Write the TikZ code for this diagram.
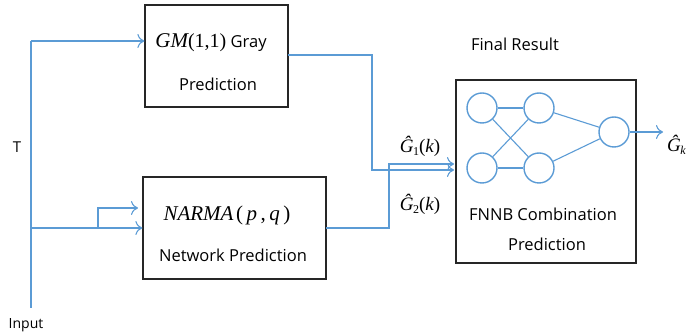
\documentclass[tikz,border=0pt]{standalone}
\usepackage{fontspec}
\setmainfont{Open Sans}
\newfontfamily\serifit{Liberation Serif}
\usetikzlibrary{arrows.meta}
\definecolor{lblue}{RGB}{91,155,213}
\newcommand{\ghat}[1]{{\serifit\fontsize{19}{21}\selectfont\itshape Ĝ\kern-0.5pt\raisebox{-3pt}{\upshape\fontsize{12}{14}\selectfont #1}}}
\begin{document}
\begin{tikzpicture}[x=1pt,y=-1pt,
  box/.style={draw=black!85,line width=1.2pt,inner sep=0pt},
  wire/.style={draw=lblue,line width=1.1pt},
  arr/.style={wire,-{To[length=7pt,width=14pt,line width=1.1pt]}},
  neuron/.style={circle,draw=lblue,line width=1.4pt,minimum size=30pt,inner sep=0pt},
  lbl/.style={font=\fontsize{16.5}{19}\selectfont,inner sep=0pt}]
\useasboundingbox (0,0) rectangle (686,336);
% boxes
\node[box,minimum width=143pt,minimum height=102pt] (gm) at (216.5,56) {};
\node[box,minimum width=183pt,minimum height=102pt] (narma) at (234.5,228) {};
\node[box,minimum width=180pt,minimum height=183pt] (fn) at (546,171.5) {};
% box texts
\node[lbl,anchor=base] (gmt) at (211,48) {{\serifit\fontsize{21}{23}\selectfont\itshape GM}{\serifit\fontsize{20}{22}\selectfont(1,1)} Gray};
\node[lbl,anchor=base] (gmp) at (218,91) {Prediction};
\node[lbl,anchor=base] (nt) at (227,221) {{\serifit\fontsize{21}{23}\selectfont\itshape NARMA}\,{\serifit\fontsize{21}{23}\selectfont(\,\itshape p\upshape\,,\,\itshape q\upshape\,)}};
\node[lbl,anchor=base] (np) at (233,262) {Network Prediction};
\node[lbl,anchor=base] (fc) at (543,221) {FNNB Combination};
\node[lbl,anchor=base] (fp) at (547,251) {Prediction};
\node[lbl,anchor=base] (fr) at (515,51) {Final Result};
\node[lbl,anchor=base,font=\fontsize{15}{17}\selectfont] (tl) at (17,153) {T};
\node[lbl,anchor=base,font=\fontsize{14}{16}\selectfont] (in) at (26,329) {Input};
\node[inner sep=0pt,anchor=base] (g1) at (420,153) {\ghat{1}{\serifit\fontsize{19}{21}\selectfont(\itshape k\upshape)}};
\node[inner sep=0pt,anchor=base] (g2) at (420,211) {\ghat{2}{\serifit\fontsize{19}{21}\selectfont(\itshape k\upshape)}};
\node[inner sep=0pt,anchor=base west] (gk) at (667,152) {\ghat{\itshape k}};
% neurons
\node[neuron] (a1) at (482,108) {};
\node[neuron] (a2) at (482,168) {};
\node[neuron] (b1) at (539,108) {};
\node[neuron] (b2) at (539,168) {};
\node[neuron] (c1) at (614,132) {};
\draw[wire] (a1) -- (b1); \draw[wire] (a1) -- (b2);
\draw[wire] (a2) -- (b1); \draw[wire] (a2) -- (b2);
\draw[wire] (b1) -- (c1); \draw[wire] (b2) -- (c1);
\coordinate (gko) at (663,132);
\draw[arr] (c1) -- (gko);
% input wiring
\coordinate (bot) at (31,308);
\coordinate (top) at (31,41);
\coordinate (br) at (98,228);
\coordinate (nin2) at (138,208);
\draw[wire] (bot) -- (top);
\draw[arr] (top) -- (gm.west |- top);
\draw[arr] (31,228) -- (narma.west |- br);
\draw[arr] (br) |- (nin2);
% outputs to FNNB
\coordinate (gmo) at (288,55);
\coordinate (t1) at (372,55);
\coordinate (e1) at (454,170);
\draw[arr] (gmo) -- (t1) |- (e1);
\coordinate (no) at (326,228);
\coordinate (t2) at (389,228);
\coordinate (e2) at (454,164);
\draw[arr] (no) -- (t2) |- (e2);
\end{tikzpicture}
\end{document}
